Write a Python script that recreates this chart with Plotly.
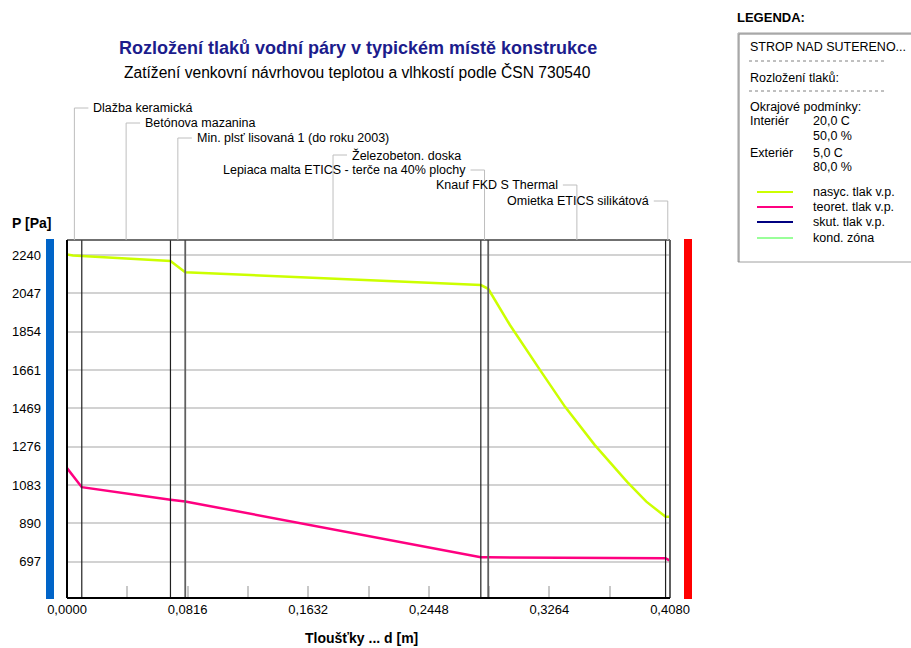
import plotly.graph_objects as go

W, H = 911, 648

# ---------------- data ----------------
layer_names = [
    "Dlažba keramická",
    "Betónova mazanina",
    "Min. plsť lisovaná 1 (do roku 2003)",
    "Železobeton. doska",
    "Lepiaca malta ETICS - terče na 40% plochy",
    "Knauf FKD S Thermal",
    "Omietka ETICS silikátová",
]
layer_thickness = [0.010, 0.060, 0.010, 0.200, 0.005, 0.120, 0.003]

sat_x = [0.0, 0.004, 0.010, 0.070, 0.080, 0.280, 0.285, 0.2997, 0.320, 0.337, 0.357, 0.379, 0.392, 0.405, 0.408]
sat_p = [2243, 2237, 2235, 2210, 2153, 2089, 2070, 1888, 1662, 1476, 1285, 1099, 999, 923, 923]

teor_x = [0.0, 0.010, 0.070, 0.080, 0.280, 0.285, 0.405, 0.408]
teor_p = [1168, 1072, 1009, 1000, 720, 719, 714, 702]

x_tickvals = [0.0, 0.0816, 0.1632, 0.2448, 0.3264, 0.4080]
x_ticktext = ["0,0000", "0,0816", "0,1632", "0,2448", "0,3264", "0,4080"]
y_tickvals = [2240, 2047, 1854, 1661, 1469, 1276, 1083, 890, 697]
y_ticktext = ["2240", "2047", "1854", "1661", "1469", "1276", "1083", "890", "697"]

legend_items = ["nasyc. tlak v.p.", "teoret. tlak v.p.", "skut. tlak v.p.", "kond. zóna"]
legend_colors = ["#CCFF00", "#FF0080", "#000080", "#99FF99"]

# ---------------- helpers ----------------
def px(x):
    return x / W

def py(y):
    return 1 - y / H

FONT = "Liberation Sans"
PLOT_L, PLOT_R, PLOT_T, PLOT_B = 67, 670, 240, 598

fig = go.Figure()
fig.add_trace(go.Scatter(x=sat_x, y=sat_p, mode="lines",
                         line=dict(color=legend_colors[0], width=2.5),
                         showlegend=False, hoverinfo="skip"))
fig.add_trace(go.Scatter(x=teor_x, y=teor_p, mode="lines",
                         line=dict(color=legend_colors[1], width=2.5),
                         showlegend=False, hoverinfo="skip"))

shapes = []
annotations = []

# boundaries of layers
bounds = [0.0]
for t in layer_thickness:
    bounds.append(bounds[-1] + t)
mids = [(bounds[i] + bounds[i + 1]) / 2 for i in range(len(layer_thickness))]

bstyles = [("#202020", 1.2), ("#202020", 1.2), ("#606060", 1.8), ("#202020", 1.2),
           ("#606060", 1.8), ("#202020", 1.2)]
for b, (c, w) in zip(bounds[1:-1], bstyles):
    shapes.append(dict(type="line", xref="x", yref="paper", x0=b, x1=b,
                       y0=py(PLOT_B), y1=py(PLOT_T), line=dict(color=c, width=w)))

# plot frame
shapes.append(dict(type="line", xref="paper", yref="paper", x0=px(PLOT_L), x1=px(PLOT_R),
                   y0=py(PLOT_T), y1=py(PLOT_T), line=dict(color="#404040", width=1.5)))
shapes.append(dict(type="line", xref="paper", yref="paper", x0=px(PLOT_R), x1=px(PLOT_R),
                   y0=py(PLOT_B), y1=py(PLOT_T), line=dict(color="#606060", width=2)))
shapes.append(dict(type="line", xref="paper", yref="paper", x0=px(PLOT_L), x1=px(PLOT_L),
                   y0=py(PLOT_B), y1=py(PLOT_T), line=dict(color="#000000", width=2)))
shapes.append(dict(type="line", xref="paper", yref="paper", x0=px(PLOT_L), x1=px(PLOT_R),
                   y0=py(PLOT_B), y1=py(PLOT_B), line=dict(color="#000000", width=2)))

# side bars (interior / exterior)
shapes.append(dict(type="rect", xref="paper", yref="paper", x0=px(46), x1=px(54),
                   y0=py(PLOT_B + 1), y1=py(PLOT_T - 1), line=dict(width=0), fillcolor="#0064C8"))
shapes.append(dict(type="rect", xref="paper", yref="paper", x0=px(684), x1=px(692),
                   y0=py(PLOT_B + 1), y1=py(PLOT_T - 1), line=dict(width=0), fillcolor="#FF0000"))

# layer labels with leaders
label_y = [108, 123, 138, 155, 170, 185, 201]
label_side = [1, 1, 1, 1, -1, -1, -1]
for name, m, ly, side in zip(layer_names, mids, label_y, label_side):
    shapes.append(dict(type="line", xref="x", yref="paper", x0=m, x1=m,
                       y0=py(ly), y1=py(PLOT_T), line=dict(color="#BEBEBE", width=1)))
    shapes.append(dict(type="line", xref="x", yref="paper", xsizemode="pixel", xanchor=m,
                       x0=0, x1=14 * side, y0=py(ly), y1=py(ly),
                       line=dict(color="#BEBEBE", width=1)))
    annotations.append(dict(text=name, xref="x", yref="paper", x=m, y=py(ly),
                            xanchor="left" if side > 0 else "right", yanchor="middle",
                            xshift=17 * side, showarrow=False,
                            font=dict(family=FONT, size=12.5, color="#000")))

# titles
annotations.append(dict(text="<b>Rozložení tlaků vodní páry v typickém místě konstrukce</b>",
                        xref="paper", yref="paper", x=px(358), y=py(48), xanchor="center",
                        yanchor="middle", showarrow=False,
                        font=dict(family=FONT, size=18, color="#1C1C8C")))
annotations.append(dict(text="Zatížení venkovní návrhovou teplotou a vlhkostí podle ČSN 730540",
                        xref="paper", yref="paper", x=px(357), y=py(72), xanchor="center",
                        yanchor="middle", showarrow=False,
                        font=dict(family=FONT, size=15.6, color="#000")))
annotations.append(dict(text="<b>P [Pa]</b>", xref="paper", yref="paper", x=px(10), y=py(223),
                        xanchor="left", yanchor="middle", showarrow=False,
                        font=dict(family=FONT, size=14, color="#000")))
annotations.append(dict(text="<b>Tloušťky ... d [m]</b>", xref="paper", yref="paper",
                        x=px(361), y=py(638), xanchor="center", yanchor="middle",
                        showarrow=False, font=dict(family=FONT, size=14, color="#000")))

# legend panel
annotations.append(dict(text="<b>LEGENDA:</b>", xref="paper", yref="paper", x=px(735), y=py(17),
                        xanchor="left", yanchor="middle", showarrow=False,
                        font=dict(family=FONT, size=13, color="#000")))
shapes.append(dict(type="rect", xref="paper", yref="paper", x0=px(738), x1=px(930),
                   y0=py(262), y1=py(33), line=dict(color="#A0A0A0", width=1),
                   fillcolor="white"))
shapes.append(dict(type="line", xref="paper", yref="paper", x0=px(739), x1=px(739),
                   y0=py(262), y1=py(34), line=dict(color="#808080", width=1)))
shapes.append(dict(type="line", xref="paper", yref="paper", x0=px(739), x1=px(930),
                   y0=py(34), y1=py(34), line=dict(color="#808080", width=1)))

panel_texts = [
    ("STROP NAD SUTERENO...", 748, 47),
    ("Rozložení tlaků:", 748, 78),
    ("Okrajové podmínky:", 748, 107),
    ("Interiér", 748, 121),
    ("20,0 C", 811, 121),
    ("50,0 %", 811, 136),
    ("Exteriér", 748, 153),
    ("5,0 C", 811, 153),
    ("80,0 %", 811, 167),
]
for t, x, y in panel_texts:
    annotations.append(dict(text=t, xref="paper", yref="paper", x=px(x), y=py(y),
                            xanchor="left", yanchor="middle", showarrow=False,
                            font=dict(family=FONT, size=12.5, color="#000")))
for yy in (61, 91):
    shapes.append(dict(type="line", xref="paper", yref="paper", x0=px(749), x1=px(885),
                       y0=py(yy), y1=py(yy), line=dict(color="#808080", width=1, dash="dot")))

leg_y = [192, 207, 222, 238]
for name, col, yy in zip(legend_items, legend_colors, leg_y):
    shapes.append(dict(type="line", xref="paper", yref="paper", x0=px(757), x1=px(793),
                       y0=py(yy), y1=py(yy), line=dict(color=col, width=2)))
    annotations.append(dict(text=name, xref="paper", yref="paper", x=px(811), y=py(yy),
                            xanchor="left", yanchor="middle", showarrow=False,
                            font=dict(family=FONT, size=12.5, color="#000")))

fig.update_layout(
    width=W, height=H,
    margin=dict(l=0, r=0, t=0, b=0, autoexpand=False),
    paper_bgcolor="white", plot_bgcolor="white",
    showlegend=False,
    xaxis=dict(domain=[px(PLOT_L), px(PLOT_R)], range=[0, 0.408],
               tickmode="array", tickvals=x_tickvals, ticktext=x_ticktext,
               ticks="inside", ticklen=12, tickwidth=1.5, tickcolor="#C8C8C8",
               minor=dict(ticks="inside", ticklen=12, tickwidth=1.5, tickcolor="#C8C8C8",
                          tick0=0, dtick=0.0408),
               showgrid=False, zeroline=False, showline=False,
               ticklabelstandoff=2, automargin=False,
               tickfont=dict(family=FONT, size=13, color="#000")),
    yaxis=dict(domain=[py(PLOT_B), py(PLOT_T)], range=[514.4, 2315.5],
               tickmode="array", tickvals=y_tickvals, ticktext=y_ticktext,
               ticks="", showgrid=True, gridcolor="#D2D2D2", gridwidth=1.5,
               zeroline=False, showline=False, ticklabelstandoff=25, automargin=False,
               tickfont=dict(family=FONT, size=13, color="#000")),
    shapes=shapes,
    annotations=annotations,
)

fig.write_html("out.html")
